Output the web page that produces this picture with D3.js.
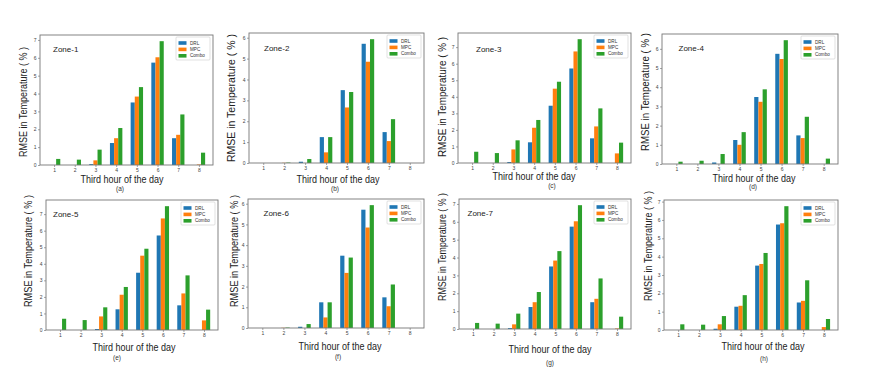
<!DOCTYPE html>
<html>
<head>
<meta charset="utf-8">
<script src="https://cdn.jsdelivr.net/npm/d3@7"></script>
<style>
  html, body { margin: 0; padding: 0; background: #fff; }
  text { font-family: "Liberation Sans", Arial, sans-serif; }
</style>
</head>
<body>
<div id="chart"></div>
<script>
// hours on the x axis and the three methods
const hours = [1, 2, 3, 4, 5, 6, 7, 8];
const methods = ["DRL", "MPC", "Combo"];
const colors = ["#1f77b4", "#ff7f0e", "#2ca02c"];
const zoneNames = ["Zone-1", "Zone-2", "Zone-3", "Zone-4", "Zone-5", "Zone-6", "Zone-7", ""];
const subLabels = ["(a)", "(b)", "(c)", "(d)", "(e)", "(f)", "(g)", "(h)"];

// RMSE values, one array per zone and method
const zone1Drl   = [0, 0, 0.05, 1.23, 3.50, 5.73, 1.50, 0];
const zone1Mpc   = [0, 0, 0.26, 1.50, 3.83, 6.03, 1.69, 0.03];
const zone1Combo = [0.34, 0.30, 0.86, 2.07, 4.36, 6.93, 2.83, 0.69];

const zone2Drl   = [0, 0, 0.06, 1.24, 3.49, 5.71, 1.48, 0];
const zone2Mpc   = [0, 0.01, 0, 0.51, 2.66, 4.85, 1.05, 0];
const zone2Combo = [0, 0.02, 0.19, 1.24, 3.40, 5.93, 2.10, 0];

const zone3Drl   = [0, 0, 0.06, 1.25, 3.46, 5.71, 1.49, 0];
const zone3Mpc   = [0, 0, 0.82, 2.13, 4.49, 6.74, 2.21, 0.58];
const zone3Combo = [0.68, 0.60, 1.37, 2.60, 4.91, 7.48, 3.30, 1.23];

const zone4Drl   = [0, 0, 0.08, 1.25, 3.49, 5.74, 1.49, 0];
const zone4Mpc   = [0, 0, 0, 1.00, 3.24, 5.47, 1.35, 0];
const zone4Combo = [0.12, 0.17, 0.52, 1.66, 3.89, 6.45, 2.46, 0.28];

const zone5Drl   = [0, 0, 0.06, 1.25, 3.46, 5.71, 1.49, 0];
const zone5Mpc   = [0, 0, 0.82, 2.13, 4.49, 6.74, 2.21, 0.58];
const zone5Combo = [0.68, 0.60, 1.37, 2.60, 4.91, 7.48, 3.30, 1.23];

const zone6Drl   = [0, 0, 0.06, 1.24, 3.49, 5.71, 1.48, 0];
const zone6Mpc   = [0, 0.01, 0, 0.51, 2.66, 4.85, 1.05, 0];
const zone6Combo = [0, 0.02, 0.19, 1.24, 3.40, 5.93, 2.10, 0];

const zone7Drl   = [0, 0, 0.05, 1.23, 3.50, 5.73, 1.50, 0];
const zone7Mpc   = [0, 0, 0.26, 1.50, 3.83, 6.03, 1.69, 0.03];
const zone7Combo = [0.34, 0.30, 0.86, 2.07, 4.36, 6.93, 2.83, 0.69];

const zone8Drl   = [0, 0, 0.07, 1.27, 3.51, 5.75, 1.50, 0];
const zone8Mpc   = [0, 0, 0.31, 1.32, 3.60, 5.82, 1.59, 0.16];
const zone8Combo = [0.31, 0.29, 0.76, 1.90, 4.20, 6.75, 2.71, 0.60];

const zoneSeries = [
  [zone1Drl, zone1Mpc, zone1Combo],
  [zone2Drl, zone2Mpc, zone2Combo],
  [zone3Drl, zone3Mpc, zone3Combo],
  [zone4Drl, zone4Mpc, zone4Combo],
  [zone5Drl, zone5Mpc, zone5Combo],
  [zone6Drl, zone6Mpc, zone6Combo],
  [zone7Drl, zone7Mpc, zone7Combo],
  [zone8Drl, zone8Mpc, zone8Combo]
];

// layout of each panel (the figure was pasted together, so it's not a regular grid)
// frame: [left, top, right, bottom], ylab: [x, cy, length], xlab: [cx, y], sub: [cx, y], zone: [dx, dy]
const layout = [
  {frame: [40, 35, 213, 165],  ylab: [23, 102, 110],  xlab: [122, 179], sub: [120, 189], zone: [13, 14]},
  {frame: [249, 33, 424, 163], ylab: [231, 98, 128],  xlab: [338, 179], sub: [335, 189], zone: [15, 15.5]},
  {frame: [458, 33, 631, 163], ylab: [442, 97, 120],  xlab: [534, 176], sub: [552, 186], zone: [18, 16.5]},
  {frame: [662, 34, 838, 164], ylab: [645, 92, 118],  xlab: [754, 178], sub: [753, 187], zone: [16.5, 14.5]},
  {frame: [46, 200, 218, 330], ylab: [28, 251, 112],  xlab: [134, 347], sub: [117, 358], zone: [7, 14]},
  {frame: [248, 199, 424, 328], ylab: [234, 251, 112], xlab: [340, 346], sub: [338, 357], zone: [15.5, 14.5]},
  {frame: [459, 199, 631, 329], ylab: [442, 247, 108], xlab: [550, 349], sub: [550, 363], zone: [8.5, 14.5]},
  {frame: [664, 200, 838, 330], ylab: [648, 246, 110], xlab: [763, 346], sub: [764, 359], zone: [0, 0]}
];

const W = 873, H = 374;
const svg = d3.select("#chart").append("svg")
  .attr("width", W).attr("height", H);

const barW = 0.2;

layout.forEach(function(p, k) {
  const [l, t, r, b] = p.frame;
  const series = zoneSeries[k];
  const ymax = d3.max(series, s => d3.max(s)) * 1.05;

  // matplotlib style margins: bars span 0.7..8.3, 5% padding
  const lo = 1 - 1.5 * barW, hi = 8 + 1.5 * barW, pad = (hi - lo) * 0.05;
  const x = d3.scaleLinear().domain([lo - pad, hi + pad]).range([l, r]);
  const y = d3.scaleLinear().domain([0, ymax]).range([b, t]);

  const g = svg.append("g");

  // bars
  series.forEach(function(vals, m) {
    g.append("g").selectAll("rect")
      .data(vals)
      .enter().append("rect")
      .attr("x", (d, i) => x(hours[i] + (m - 1) * barW - barW / 2))
      .attr("width", x(barW) - x(0))
      .attr("y", d => y(d))
      .attr("height", d => y(0) - y(d))
      .attr("fill", colors[m]);
  });

  // axes
  const xAxis = d3.axisBottom(x).tickValues(hours).tickSize(2).tickPadding(1.5);
  const yAxis = d3.axisLeft(y).ticks(d3.range(0, Math.floor(ymax) + 1).length).tickValues(d3.range(0, Math.floor(ymax) + 1)).tickSize(2).tickPadding(1.5);

  g.append("g").attr("transform", `translate(0,${b})`).call(xAxis)
    .call(a => a.select(".domain").remove());
  g.append("g").attr("transform", `translate(${l},0)`).call(yAxis)
    .call(a => a.select(".domain").remove());
  g.selectAll(".tick text").attr("font-size", 5).attr("fill", "#444")
    .style("font-family", "'Liberation Sans', Arial, sans-serif");
  g.selectAll(".tick line").attr("stroke", "#666").attr("stroke-width", 0.6);

  // frame
  g.append("rect")
    .attr("x", l).attr("y", t).attr("width", r - l).attr("height", b - t)
    .attr("fill", "none").attr("stroke", "#777").attr("stroke-width", 0.9);

  // zone label
  if (zoneNames[k]) {
    g.append("text")
      .attr("x", l + p.zone[0]).attr("y", t + p.zone[1])
      .attr("dy", "0.35em")
      .attr("font-size", 8).attr("fill", "#222")
      .text(zoneNames[k]);
  }

  // legend
  const lg = g.append("g").attr("transform", `translate(${r - 37},${t + 2})`);
  lg.append("rect").attr("width", 34).attr("height", 23).attr("rx", 1)
    .attr("fill", "#fff").attr("stroke", "#ccc").attr("stroke-width", 0.6);
  methods.forEach(function(name, m) {
    const yy = 6 + m * 6.4;
    lg.append("rect").attr("x", 2.5).attr("y", yy - 1.8).attr("width", 8).attr("height", 3.6)
      .attr("fill", colors[m]);
    lg.append("text").attr("x", 14).attr("y", yy).attr("dy", "0.35em")
      .attr("font-size", 4.6).attr("fill", "#333").text(name);
  });

  // axis labels
  g.append("text")
    .attr("transform", `translate(${p.ylab[0]},${p.ylab[1]}) rotate(-90)`)
    .attr("text-anchor", "middle").attr("dy", "0.35em")
    .attr("font-size", 11).attr("fill", "#222")
    .attr("textLength", p.ylab[2]).attr("lengthAdjust", "spacingAndGlyphs")
    .text("RMSE in Temperature ( % )");

  g.append("text")
    .attr("x", p.xlab[0]).attr("y", p.xlab[1])
    .attr("text-anchor", "middle").attr("dy", "0.35em")
    .attr("font-size", 11).attr("fill", "#222")
    .attr("textLength", 83).attr("lengthAdjust", "spacingAndGlyphs")
    .text("Third hour of the day");

  g.append("text")
    .attr("x", p.sub[0]).attr("y", p.sub[1])
    .attr("text-anchor", "middle").attr("dy", "0.35em")
    .attr("font-size", 6.5).attr("fill", "#333")
    .text(subLabels[k]);
});
</script>
</body>
</html>
